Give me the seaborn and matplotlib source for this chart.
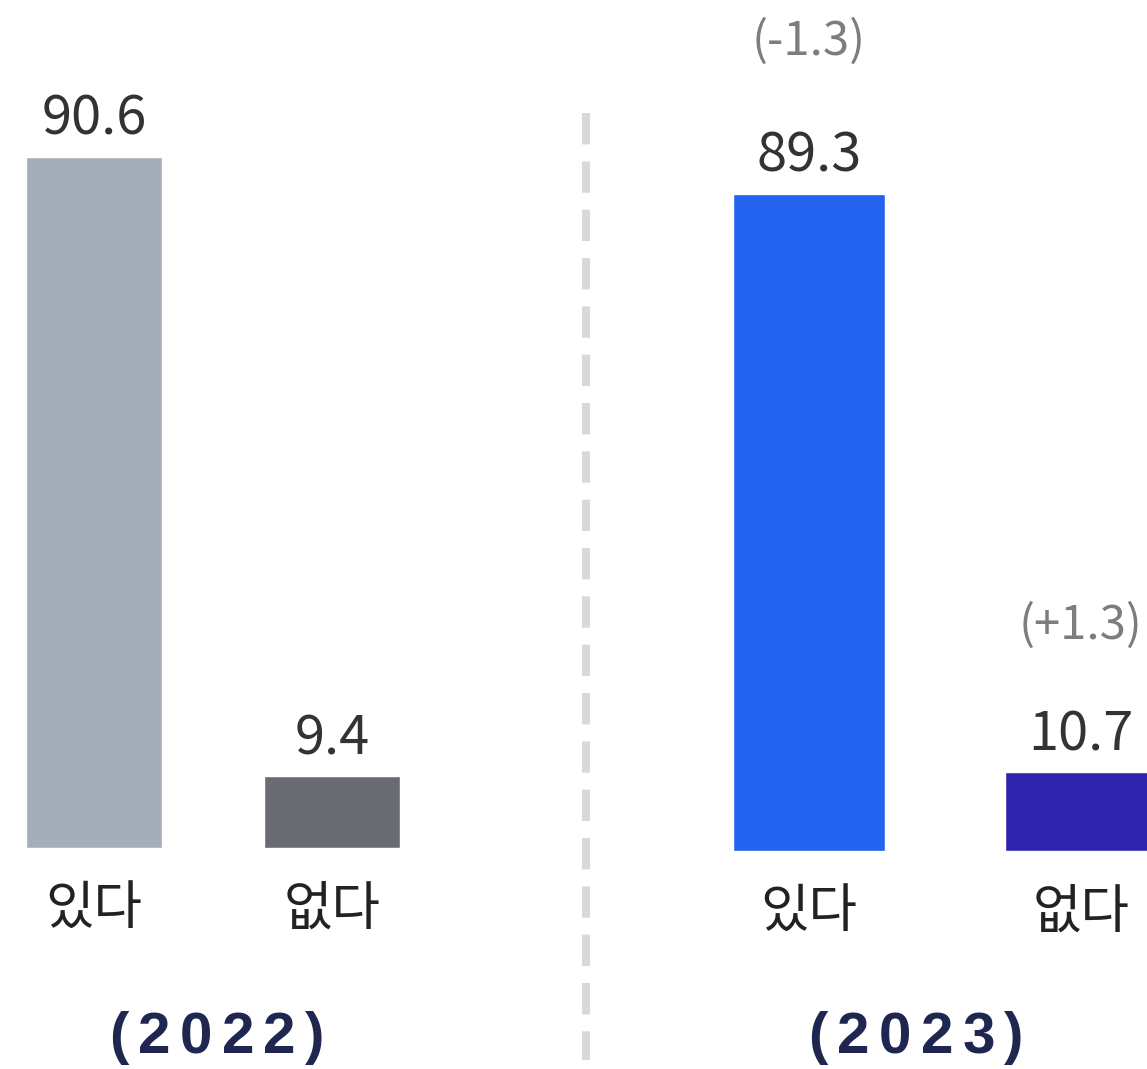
import numpy as np
import pandas as pd
import matplotlib
matplotlib.use("Agg")
import matplotlib.pyplot as plt
from matplotlib.lines import Line2D
import seaborn as sns

# data
categories = ['있다', '없다']
values_2022 = [90.6, 9.4]
values_2023 = [89.3, 10.7]
changes_2023 = ['(-1.3)', '(+1.3)']
years = ['(2022)', '(2023)']
colors_2022 = ['#a5aeb8', '#686c70']
colors_2023 = ['#2463f0', '#3023b0']

sns.set_style("white")
plt.rcParams['font.family'] = ['Noto Sans CJK KR', 'DejaVu Sans']

W, H = 1147, 1069
fig = plt.figure(figsize=(W / 100, H / 100), dpi=100)


def px_axes(x0, x1, y_top, y_bot):
    return fig.add_axes([x0 / W, 1 - y_bot / H, (x1 - x0) / W, (y_bot - y_top) / H])


# left panel (2022): bar centres at 94 and 332 px, spacing 238 px
ax1 = px_axes(0, 560, 0, 848)
df1 = pd.DataFrame({'cat': categories, 'val': values_2022})
sns.barplot(data=df1, x='cat', y='val', hue='cat', palette=colors_2022,
            width=136 / 238, saturation=1, legend=False, ax=ax1)
ax1.set_xlim(-94 / 238, 1 + (560 - 332) / 238)
ax1.set_ylim(0, 848 / 7.63)

# right panel (2023): bar centres at 809 and 1081 px, spacing 272 px
ax2 = px_axes(600, W, 0, 851)
df2 = pd.DataFrame({'cat': categories, 'val': values_2023})
sns.barplot(data=df2, x='cat', y='val', hue='cat', palette=colors_2023,
            width=152 / 272, saturation=1, legend=False, ax=ax2)
ax2.set_xlim(-(809 - 600) / 272, 1 + (W - 1081) / 272)
ax2.set_ylim(0, 851 / 7.36)

for ax, vals in [(ax1, values_2022), (ax2, values_2023)]:
    for i, v in enumerate(vals):
        ax.annotate(f'{v:.1f}', (i, v), xytext=(0, 10), textcoords='offset pixels',
                    ha='center', va='bottom', fontsize=39, color='#333333')
    ax.set_xlabel('')
    ax.set_ylabel('')
    ax.set_yticks([])
    ax.tick_params(axis='x', length=0, pad=24, labelsize=38, labelcolor='#222222')
    sns.despine(ax=ax, left=True, bottom=True)
    ax.patch.set_alpha(0)

# change vs previous year
for i, (v, c) in enumerate(zip(values_2023, changes_2023)):
    off = 128 if i == 0 else 122
    ax2.annotate(c, (i, v), xytext=(0, off), textcoords='offset pixels',
                 ha='center', va='bottom', fontsize=34, color='#7d7d7d')

# year labels, letter-spaced by placing each character
renderer = fig.canvas.get_renderer()
year_style = dict(fontsize=42, fontweight='bold', color='#1f2650',
                  family='Liberation Sans', va='center', ha='left')
for xc, yr in zip([217, 916], years):
    widths = []
    for ch in yr:
        t = fig.text(0, 0, ch, **year_style)
        widths.append(t.get_window_extent(renderer).width)
        t.remove()
    gap = (215 - sum(widths)) / (len(yr) - 1)
    x = xc - 215 / 2
    for ch, w in zip(yr, widths):
        fig.text(x / W, 1 - 1038 / H, ch, **year_style)
        x += w + gap

# dashed divider
fig.add_artist(Line2D([586 / W, 586 / W], [1 - 113 / H, 1 - 1060 / H],
                      transform=fig.transFigure, color='#d9d9d9', linewidth=5.8,
                      dashes=(3.9, 2.1)))

fig.savefig('out.png', dpi=100)
